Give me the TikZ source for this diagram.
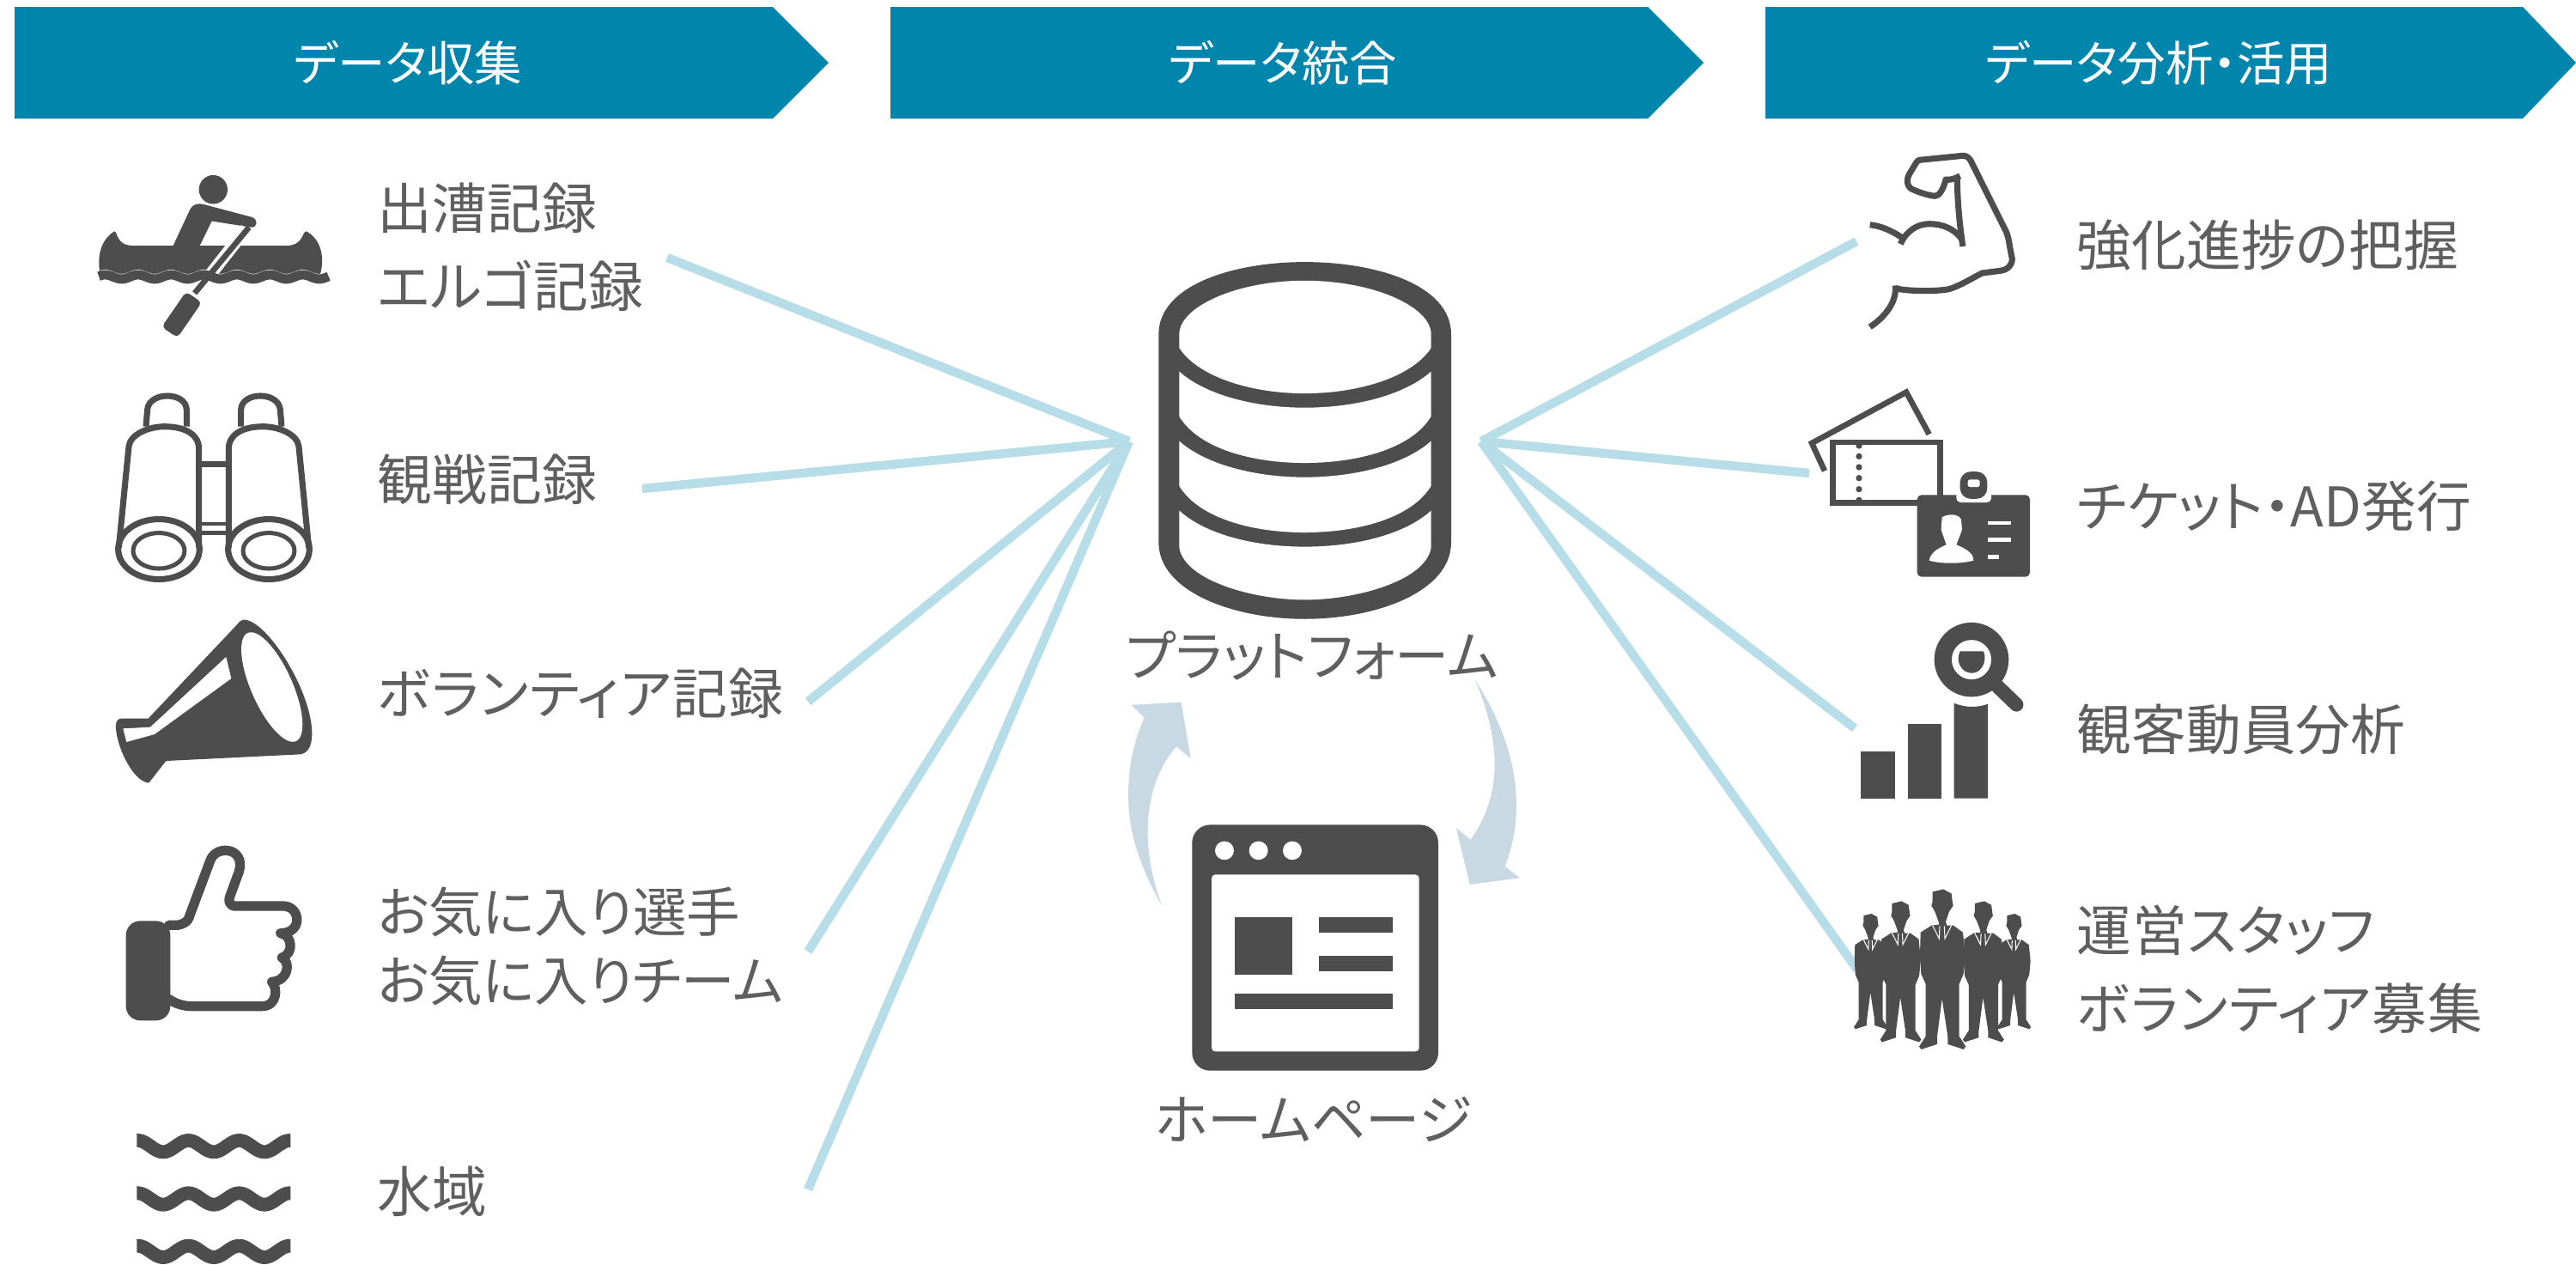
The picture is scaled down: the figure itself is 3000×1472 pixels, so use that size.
\documentclass[tikz,border=0pt]{standalone}
\usepackage{fontspec}
\newfontfamily\jp[RawFeature=+palt]{Noto Sans CJK JP}
\newfontfamily\jpa[RawFeature=+palt,LetterSpace=1]{Noto Sans CJK JP}
\newfontfamily\jpb[RawFeature=+palt,LetterSpace=2]{Noto Sans CJK JP}
\definecolor{hdr}{HTML}{0085AD}
\definecolor{ic}{HTML}{4D4D4D}
\definecolor{txt}{HTML}{5F5F5F}
\definecolor{lnk}{HTML}{B7DEE8}
\definecolor{arw}{HTML}{C9D9E3}
\tikzset{
  headbox/.style={fill=hdr,draw=none},
  headtext/.style={text=white,inner sep=0pt,anchor=center,font={\jp\fontsize{13.3}{15}\selectfont}},
  label/.style={text=txt,inner sep=0pt,anchor=west,align=left,font={\jp\fontsize{15.3}{21.9}\selectfont}},
  clabel/.style={text=txt,inner sep=0pt,anchor=center,font={\jp\fontsize{15.2}{21.9}\selectfont}},
  link/.style={draw=lnk,line width=2.5pt},
  darkfill/.style={fill=ic,draw=none},
  hole/.style={fill=white,draw=none},
  outline/.style={draw=ic,fill=none,line join=round},
}
\newcommand{\binohalf}{%
  \draw[outline,line width=1.7pt] (235,1310) -- (270,980) .. controls (275,940) and (340,915) .. (395,915) .. controls (480,915) and (515,950) .. (515,985) -- (515,1310);
  \draw[outline,line width=1.7pt] (330,915) -- (335,860) .. controls (340,800) and (470,800) .. (472,860) -- (472,915);
  \draw[outline,line width=1.7pt] (375,1315) ellipse [x radius=142,y radius=98];
  \draw[outline,line width=1.2pt] (375,1320) ellipse [x radius=90,y radius=58];
}
\newcommand{\wavy}[1]{%
  \draw[ic,line width=3.8pt] plot[domain=298:835,samples=90] (\x,{#1+20*cos((\x-390)*2.034)});
}
\newcommand{\person}[3]{%
  \begin{scope}[shift={(#1,#2)},scale=#3]
    \fill[darkfill] (-36,-543) -- (2,-552) -- (30,-537) -- (34,-505) -- (36,-495) -- (22,-475) -- (10,-440) -- (14,-427) -- (37,-427) -- (70,-403) -- (78,-325) -- (72,-260) -- (57,-225) -- (57,-45) -- (80,-10) -- (72,0) -- (17,-18) -- (17,-45) -- (-3,-175) -- (-20,-45) -- (-20,-18) -- (-76,0) -- (-83,-10) -- (-60,-45) -- (-60,-225) -- (-76,-260) -- (-80,-325) -- (-78,-403) -- (-40,-427) -- (-13,-430) -- (-15,-440) -- (-28,-475) -- (-40,-495) -- (-36,-510) -- cycle;
    \draw[white,line width=0.25pt] (-36,-427) -- (-13,-382) -- (-11,-425);
    \draw[white,line width=0.25pt] (30,-427) -- (7,-382) -- (5,-425);
  \end{scope}
}
\begin{document}
\begin{tikzpicture}[x=0.24pt,y=-0.24pt]
\useasboundingbox (0,0) rectangle (3000,1472);
% --- headers
\fill[headbox] (17,8) -- (900,8) -- (965,73) -- (900,138) -- (17,138) -- cycle;
\fill[headbox] (1037,8) -- (1919,8) -- (1984,73) -- (1919,138) -- (1037,138) -- cycle;
\fill[headbox] (2056,8) -- (2938,8) -- (3000,73) -- (2938,138) -- (2056,138) -- cycle;
\node[headtext] (h1) at (475,73) {データ収集};
\node[headtext] (h2) at (1494,73) {データ統合};
\node[headtext] (h3) at (2514,73) {データ分析・活用};
% --- link coordinates
\coordinate (hubL) at (1315,514);
\coordinate (hubR) at (1725,514);
\coordinate (l1) at (777,300);
\coordinate (l2) at (748,569);
\coordinate (l3) at (941,817);
\coordinate (l4) at (941,1108);
\coordinate (l5) at (941,1385);
\coordinate (r1) at (2162,281);
\coordinate (r2) at (2107,551);
\coordinate (r3) at (2160,848);
\coordinate (r4) at (2163,1129);
\foreach \e in {l1,l2,l3,l4,l5} \draw[link] (\e) -- (hubL);
\foreach \e in {r1,r2,r3,r4} \draw[link] (\e) -- (hubR);
% --- labels left
\node[label] (t1) at (439,288) {出漕記録\\{\jpa エルゴ記録}};
\node[label] (t2) at (439,558) {観戦記録};
\node[label] (t3) at (439,807) {\jpb ボランティア記録};
\node[label,font={\jp\fontsize{15}{19.3}\selectfont}] (t4) at (439,1102) {お気に入り選手\\お気に入りチーム};
\node[label] (t5) at (439,1387) {水域};
% --- labels right
\node[label] (t6) at (2418,285) {強化進捗の把握};
\node[label] (t7) at (2418,589) {チケット・AD発行};
\node[label] (t8) at (2418,849) {観客動員分析};
\node[label] (t9) at (2418,1129) {{\jpa 運営スタッフ}\\{\jpb ボランティア募集}};
% --- centre labels
\node[clabel] (pf) at (1528,764) {プラットフォーム};
\node[clabel] (hp) at (1530,1303) {ホームページ};
% --- canoe
\begin{scope}[shift={(60,170)},x=0.08pt,y=-0.0857pt]
  \fill[darkfill] (565,142) circle [x radius=50,y radius=47];
  \fill[darkfill] (170,420) .. controls (160,370) and (165,310) .. (220,278) .. controls (232,280) and (225,325) .. (285,325) -- (425,325) -- (480,215) .. controls (490,190) and (510,185) .. (530,190) -- (700,232) .. controls (722,238) and (722,268) .. (695,265) -- (560,245) -- (518,325) -- (820,325) .. controls (880,325) and (875,280) .. (890,278) .. controls (945,305) and (955,370) .. (938,420) -- cycle;
  \fill[white] plot[domain=165:968,samples=80] (\x,{410+7*cos((\x-130)*3.13)}) -- (968,445) -- (165,445) -- cycle;
  \draw[white,line width=3.4pt] (680,270) -- (550,425);
  \draw[ic,line width=2.6pt] plot[domain=165:968,samples=80] (\x,{427+7*cos((\x-130)*3.13)});
  \draw[ic,line width=1.6pt] (690,265) -- (500,480);
  \fill[darkfill,rounded corners=1.2pt] (470,475) -- (525,510) -- (440,625) -- (385,590) -- cycle;
\end{scope}
% --- binoculars
\begin{scope}[shift={(60,170)},x=0.08pt,y=-0.0857pt]
  \binohalf
  \begin{scope}[shift={(1134,0)},xscale=-1]\binohalf\end{scope}
  \draw[outline,line width=1.7pt] (515,1037) -- (615,1037);
  \draw[outline,line width=1.1pt] (515,1232) -- (615,1232);
  \draw[outline,line width=1.1pt] (515,1262) -- (615,1262);
\end{scope}
% --- megaphone
\begin{scope}[shift={(110,700)},x=0.08pt,y=-0.08pt]
  \fill[darkfill] (520,65) .. controls (600,60) and (765,320) .. (760,470) .. controls (758,510) and (745,530) .. (720,535) -- (250,558) -- (190,635) .. controls (130,630) and (70,490) .. (75,430) .. controls (77,415) and (85,410) .. (95,410) -- (188,410) -- (500,80) .. controls (507,70) and (515,65) .. (520,65) -- cycle;
  \fill[hole,rotate around={-66:(620,300)}] (620,300) ellipse [x radius=207,y radius=72];
  \fill[hole] (460,195) -- (478,270) -- (210,465) -- (112,492) -- (100,445) -- (195,440) -- cycle;
\end{scope}
% --- thumb
\begin{scope}[shift={(60,960)},x=0.08pt,y=-0.08pt]
  \fill[darkfill,rounded corners=4pt] (260,337) -- (415,337) -- (415,685) -- (260,685) -- cycle;
  \draw[outline,line width=2.7pt,line cap=round] (410,352) -- (440,352) .. controls (480,345) and (482,320) .. (482,320) -- (555,125) .. controls (575,70) and (680,80) .. (655,165) -- (622,255) .. controls (615,285) and (640,285) .. (640,285) -- (810,285) .. controls (870,285) and (880,380) .. (800,380) .. controls (840,385) and (850,450) .. (805,465) .. controls (835,480) and (830,545) .. (770,550) .. controls (790,570) and (790,635) .. (735,635) -- (490,635) .. controls (460,635) and (430,625) .. (410,610);
  \wavy{1124}
  \wavy{1308}
  \wavy{1492}
\end{scope}
% --- database
\begin{scope}[shift={(1280,300)},x=0.08pt,y=-0.153pt]
  \fill[darkfill] (208,140) .. controls (208,50) and (470,8) .. (718,8) .. controls (970,8) and (1230,50) .. (1230,140) -- (1230,520) .. controls (1230,610) and (970,660) .. (718,660) .. controls (470,660) and (208,610) .. (208,520) -- cycle;
  \fill[hole] (280,140) .. controls (280,90) and (480,42) .. (718,42) .. controls (960,42) and (1160,90) .. (1160,140) -- (1160,165) .. controls (1090,220) and (900,248) .. (718,248) .. controls (540,248) and (350,220) .. (280,165) -- cycle;
  \foreach \d in {0,127} {
    \fill[hole] (280,208+\d) .. controls (370,250+\d) and (540,274+\d) .. (718,274+\d) .. controls (900,274+\d) and (1070,250+\d) .. (1160,208+\d) -- (1160,290+\d) .. controls (1090,350+\d) and (900,375+\d) .. (718,375+\d) .. controls (540,375+\d) and (350,350+\d) .. (280,290+\d) -- cycle;
  }
  \fill[hole] (280,462) .. controls (370,505) and (540,528) .. (718,528) .. controls (900,528) and (1070,505) .. (1160,462) -- (1160,530) .. controls (1140,590) and (900,625) .. (718,625) .. controls (540,625) and (300,590) .. (280,530) -- cycle;
  % --- curved arrows
  \fill[arw] (220,1185) .. controls (130,1100) and (100,1040) .. (102,975) .. controls (105,920) and (125,880) .. (158,840) -- (112,817) -- (287,812) -- (320,915) -- (270,893) .. controls (200,935) and (170,990) .. (170,1050) .. controls (170,1100) and (195,1150) .. (220,1185) -- cycle;
  \fill[arw] (1312,770) .. controls (1400,840) and (1458,920) .. (1458,1000) .. controls (1458,1040) and (1445,1075) .. (1418,1112) -- (1470,1133) -- (1295,1145) -- (1248,1042) -- (1298,1063) .. controls (1350,1025) and (1382,980) .. (1382,925) .. controls (1382,870) and (1350,815) .. (1312,770) -- cycle;
  % --- browser
  \fill[darkfill,rounded corners=5pt] (325,1036) rectangle (1185,1485);
  \fill[hole,rounded corners=1pt] (393,1127) rectangle (1118,1450);
  \foreach \cx in {438,557,675} \fill[hole] (\cx,1083) ellipse [x radius=33,y radius=17];
  \fill[darkfill] (473,1205) rectangle (675,1310);
  \fill[darkfill] (768,1205) rectangle (1025,1233);
  \fill[darkfill] (768,1275) rectangle (1025,1303);
  \fill[darkfill] (473,1345) rectangle (1025,1373);
\end{scope}
% --- arm
\begin{scope}[shift={(2130,160)},x=0.08pt,y=-0.0828pt]
  \draw[outline,line width=1.7pt] (458,130) .. controls (440,140) and (420,145) .. (408,142) .. controls (400,175) and (385,198) .. (370,198) .. controls (340,195) and (300,180) .. (285,172) .. controls (270,160) and (272,140) .. (280,125) -- (305,85) .. controls (312,75) and (320,75) .. (330,75) -- (465,62) .. controls (480,60) and (490,70) .. (495,78) -- (620,320) .. controls (628,340) and (630,360) .. (632,370) -- (640,410) .. controls (640,435) and (620,448) .. (600,450) -- (535,458) .. controls (500,475) and (460,500) .. (420,512) .. controls (380,520) and (280,520) .. (235,510);
  \draw[outline,line width=1.7pt] (232,500) .. controls (238,560) and (190,610) .. (143,640);
  \draw[outline,line width=1.7pt] (448,135) .. controls (448,200) and (455,290) .. (468,368);
  \draw[outline,line width=1.7pt] (465,345) .. controls (440,310) and (400,292) .. (350,292) .. controls (310,292) and (270,315) .. (250,360);
  \draw[outline,line width=1.7pt] (143,295) .. controls (180,298) and (220,315) .. (258,340);
\end{scope}
% --- tickets + id card
\begin{scope}[shift={(2080,440)},x=0.08pt,y=-0.08pt]
  \draw[outline,line width=1.6pt,line join=miter] (135,325) -- (90,228) -- (420,50) -- (500,197);
  \draw[outline,line width=1.6pt,line join=miter] (163,225) rectangle (538,437);
  \foreach \dy in {237,274,312,350,389,427} \fill[darkfill] (255,\dy) circle [radius=11];
\end{scope}
\begin{scope}[shift={(2130,160)},x=0.08pt,y=-0.0828pt]
  \fill[darkfill,rounded corners=1.2pt] (308,1207) rectangle (702,1483);
  \fill[hole,rounded corners=1.2pt] (445,1195) rectangle (567,1232);
  \fill[darkfill,rounded corners=3pt] (458,1220) -- (458,1128) -- (553,1128) -- (553,1220) -- cycle;
  \fill[hole,rounded corners=.6pt] (485,1155) rectangle (527,1180);
  \fill[hole] (395,1282) .. controls (420,1268) and (455,1272) .. (462,1290) -- (465,1325) -- (445,1375) .. controls (470,1385) and (505,1400) .. (505,1428) .. controls (460,1440) and (390,1440) .. (350,1428) .. controls (355,1400) and (385,1385) .. (410,1375) -- (392,1325) -- cycle;
  \fill[hole] (555,1295) rectangle (637,1308);
  \fill[hole] (555,1352) rectangle (637,1365);
  \fill[hole] (555,1409) rectangle (595,1422);
\end{scope}
% --- chart + magnifier
\begin{scope}[shift={(2130,710)},x=0.08pt,y=-0.0811pt]
  \fill[darkfill] (112,487) rectangle (230,650);
  \fill[darkfill] (275,395) rectangle (392,650);
  \fill[darkfill] (437,322) .. controls (480,338) and (515,338) .. (555,325) -- (555,650) -- (437,650) -- cycle;
  \draw[ic,line width=3.9pt,line cap=round] (590,265) -- (655,327);
  \fill[darkfill] (498,172) circle [x radius=130,y radius=128];
  \fill[hole] (498,172) circle [x radius=69,y radius=68];
  \fill[darkfill] (458,143) -- (540,143) .. controls (555,180) and (530,220) .. (498,218) .. controls (465,218) and (440,180) .. (458,143) -- cycle;
  % --- people
  \person{147}{1445}{0.72}
  \person{648}{1445}{0.72}
  \person{252}{1490}{0.88}
  \person{541}{1490}{0.88}
  \person{398}{1515}{1}
\end{scope}
\end{tikzpicture}
\end{document}
